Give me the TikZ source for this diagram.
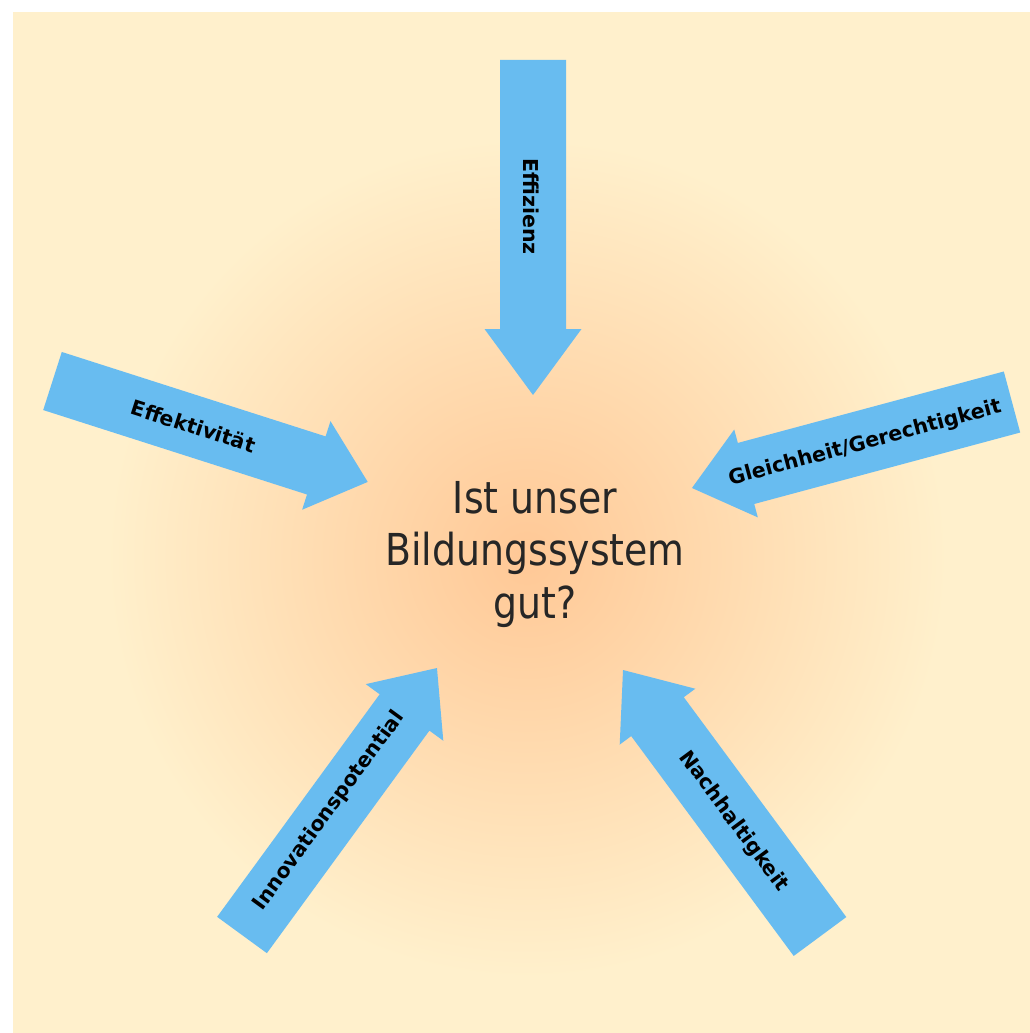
\documentclass[tikz,border=0pt]{standalone}
\usepackage{fontspec}
\setmainfont{DejaVu Sans}
\newfontfamily\qfont[FakeStretch=0.86]{DejaVu Sans}
\definecolor{bgC}{RGB}{255,240,204}
\definecolor{glowC}{RGB}{255,200,150}
\definecolor{arrC}{RGB}{104,188,240}
\tikzset{
  bigarrow/.style={fill=arrC},
  lbl/.style={font=\bfseries\fontsize{20.5}{20.5}\selectfont, text=black, inner sep=0pt},
  qtext/.style={font=\qfont\fontsize{44}{52}\selectfont, text=black!85, anchor=base, inner sep=0pt}
}
% name, tail centre, visual angle, length, shaft half width, head half width, head length
\newcommand\blockarrow[7]{%
  \begin{scope}[shift={#2}, rotate=#3]
    \fill[bigarrow] (0,-#5) -- (#4-#7,-#5) -- (#4-#7,-#6) -- (#4,0) -- (#4-#7,#6) -- (#4-#7,#5) -- (0,#5) -- cycle;
    \coordinate (#1) at (#4,0);
  \end{scope}}
\begin{document}
\begin{tikzpicture}[x=1pt,y=-1pt]
  \useasboundingbox (0,0) rectangle (1030,1033);
  \fill[white] (0,0) rectangle (1030,1033);
  \fill[bgC] (13,12) rectangle (1030,1033);
  \shade[inner color=glowC, outer color=bgC] (527,558) circle (420);

  \blockarrow{tipA}{(533,60)}{-90}{335}{33}{48.5}{66}
  \blockarrow{tipB}{(52.5,381)}{-17.75}{331}{30.5}{46.5}{54}
  \blockarrow{tipC}{(1012,402)}{-164.96}{331.4}{31.6}{45.5}{56}
  \blockarrow{tipD}{(242,935)}{53.86}{330.6}{30.8}{48}{55}
  \blockarrow{tipE}{(820,936.5)}{126.47}{331.4}{32.7}{47}{58}

  \node[lbl, rotate=-90]    (effizienz) at (531.5,206.5) {Effizienz};
  \node[lbl, rotate=-17.75] (effekt)    at (193.5,426)   {Effektivität};
  \node[lbl, rotate=15.04]  (gleich)    at (865,443.5)   {Gleichheit/Gerechtigkeit};
  \node[lbl, rotate=53.86]  (innov)     at (329,811)     {Innovationspotential};
  \node[lbl, rotate=-53.53] (nach)      at (733.5,821.5) {Nachhaltigkeit};

  \node[qtext] (q1) at (535,513) {Ist unser};
  \node[qtext] (q2) at (535,565) {Bildungssystem};
  \node[qtext] (q3) at (535,618) {gut?};
\end{tikzpicture}
\end{document}
